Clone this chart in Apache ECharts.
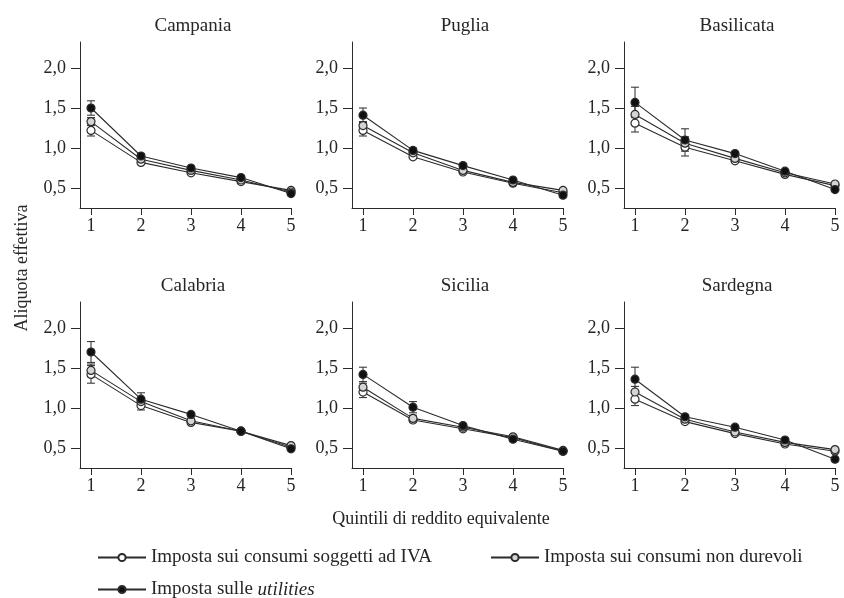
<!DOCTYPE html>
<html>
<head>
<meta charset="utf-8">
<script src="https://cdn.jsdelivr.net/npm/echarts@6/dist/echarts.min.js"></script>
<style>
  html, body { margin: 0; padding: 0; background: #fff; }
  #chart { width: 844px; height: 598px; }
</style>
</head>
<body>
<div id="chart"></div>
<script>
// regioni e quintili
var regions = ['Campania', 'Puglia', 'Basilicata', 'Calabria', 'Sicilia', 'Sardegna'];
var quintili = [1, 2, 3, 4, 5];
var yTicks = [0.5, 1.0, 1.5, 2.0];

// aliquota effettiva per regione (una riga per regione, quintili 1..5)
var ivaValues = [
  [1.22, 0.82, 0.69, 0.58, 0.47],
  [1.22, 0.89, 0.70, 0.56, 0.44],
  [1.31, 1.01, 0.84, 0.67, 0.53],
  [1.42, 1.03, 0.82, 0.71, 0.51],
  [1.20, 0.85, 0.74, 0.63, 0.46],
  [1.11, 0.83, 0.68, 0.55, 0.46]
];
var ndValues = [
  [1.33, 0.86, 0.72, 0.60, 0.45],
  [1.28, 0.94, 0.72, 0.57, 0.47],
  [1.42, 1.06, 0.87, 0.69, 0.55],
  [1.47, 1.08, 0.84, 0.71, 0.53],
  [1.26, 0.87, 0.76, 0.64, 0.47],
  [1.20, 0.86, 0.70, 0.57, 0.48]
];
var utilValues = [
  [1.50, 0.90, 0.75, 0.63, 0.43],
  [1.41, 0.97, 0.78, 0.60, 0.41],
  [1.57, 1.10, 0.93, 0.71, 0.48],
  [1.70, 1.11, 0.92, 0.71, 0.49],
  [1.42, 1.01, 0.78, 0.61, 0.46],
  [1.36, 0.89, 0.76, 0.60, 0.36]
];
// semi-ampiezza degli intervalli (barre di errore)
var ivaErr = [
  [0.07, 0.02, 0.01, 0.01, 0.01],
  [0.07, 0.02, 0.01, 0.01, 0.01],
  [0.11, 0.11, 0.02, 0.01, 0.01],
  [0.11, 0.055, 0.02, 0.01, 0.01],
  [0.07, 0.03, 0.01, 0.01, 0.01],
  [0.08, 0.02, 0.01, 0.01, 0.01]
];
var ndErr = [
  [0.05, 0.02, 0.01, 0.01, 0.01],
  [0.05, 0.02, 0.01, 0.01, 0.01],
  [0.10, 0.08, 0.02, 0.01, 0.01],
  [0.08, 0.05, 0.02, 0.01, 0.01],
  [0.05, 0.04, 0.01, 0.01, 0.01],
  [0.07, 0.02, 0.01, 0.01, 0.01]
];
var utilErr = [
  [0.09, 0.03, 0.01, 0.01, 0.01],
  [0.09, 0.03, 0.01, 0.01, 0.01],
  [0.19, 0.14, 0.02, 0.01, 0.01],
  [0.13, 0.08, 0.02, 0.01, 0.01],
  [0.09, 0.07, 0.02, 0.01, 0.01],
  [0.15, 0.02, 0.01, 0.01, 0.01]
];

var serieNames = [
  'Imposta sui consumi soggetti ad IVA',
  'Imposta sui consumi non durevoli',
  'Imposta sulle utilities'
];

var FONT = 'Liberation Serif';
var TXT = '#262626';
var INK = '#2b2b2b';

var myChart = echarts.init(document.getElementById('chart'), null, { renderer: 'canvas' });

var colLeft = [80, 352, 624];
var rowTop = [42, 302];
var grids = [], xAxes = [], yAxes = [], titles = [], series = [];

function errorSeries(idx, vals, errs) {
  var data = quintili.map(function (q, k) {
    return [q, vals[k] - errs[k], vals[k] + errs[k]];
  });
  return {
    type: 'custom',
    xAxisIndex: idx,
    yAxisIndex: idx,
    silent: true,
    z: 1,
    encode: { x: 0, y: [1, 2] },
    data: data,
    renderItem: function (params, api) {
      var x = api.value(0);
      var lo = api.coord([x, api.value(1)]);
      var hi = api.coord([x, api.value(2)]);
      var w = 4;
      var st = { stroke: INK, lineWidth: 1 };
      return {
        type: 'group',
        children: [
          { type: 'line', shape: { x1: lo[0], y1: lo[1], x2: hi[0], y2: hi[1] }, style: st },
          { type: 'line', shape: { x1: lo[0] - w, y1: lo[1], x2: lo[0] + w, y2: lo[1] }, style: st },
          { type: 'line', shape: { x1: hi[0] - w, y1: hi[1], x2: hi[0] + w, y2: hi[1] }, style: st }
        ]
      };
    }
  };
}

function lineSeries(idx, name, vals, fill) {
  return {
    name: name,
    type: 'line',
    xAxisIndex: idx,
    yAxisIndex: idx,
    z: 3,
    symbol: 'circle',
    symbolSize: 8,
    lineStyle: { color: INK, width: 1.1 },
    itemStyle: { color: fill, borderColor: INK, borderWidth: 1.2 },
    emphasis: { disabled: true },
    data: quintili.map(function (q, k) { return [q, vals[k]]; })
  };
}

regions.forEach(function (reg, i) {
  var left = colLeft[i % 3];
  var top = rowTop[Math.floor(i / 3)];
  grids.push({ left: left, top: top, width: 211, height: 166 });
  xAxes.push({
    type: 'value', gridIndex: i, min: 0.78, max: 5,
    axisLine: { lineStyle: { color: INK, width: 1 } },
    axisTick: { show: true, length: 7, lineStyle: { color: INK }, customValues: quintili },
    axisLabel: { customValues: quintili, margin: 9, fontFamily: FONT, fontSize: 18, color: TXT },
    splitLine: { show: false }
  });
  yAxes.push({
    type: 'value', gridIndex: i, min: 0.25, max: 2.325,
    axisLine: { show: true, lineStyle: { color: INK, width: 1 } },
    axisTick: { show: true, length: 9, lineStyle: { color: INK }, customValues: yTicks },
    axisLabel: {
      customValues: yTicks, margin: 14, fontFamily: FONT, fontSize: 18, color: TXT,
      formatter: function (v) { return v.toFixed(1).replace('.', ','); }
    },
    splitLine: { show: false }
  });
  titles.push({
    text: reg,
    left: left + 108,
    top: top - 30,
    textAlign: 'center',
    textStyle: { fontFamily: FONT, fontSize: 19, fontWeight: 'normal', color: TXT }
  });
  series.push(errorSeries(i, ivaValues[i], ivaErr[i]));
  series.push(errorSeries(i, ndValues[i], ndErr[i]));
  series.push(errorSeries(i, utilValues[i], utilErr[i]));
  series.push(lineSeries(i, serieNames[0], ivaValues[i], '#ffffff'));
  series.push(lineSeries(i, serieNames[1], ndValues[i], '#d4d4d4'));
  series.push(lineSeries(i, serieNames[2], utilValues[i], '#111111'));
});

function legendAt(name, left, top) {
  return {
    data: [name],
    left: left,
    top: top,
    padding: 0,
    itemWidth: 48,
    itemHeight: 9,
    itemGap: 0,
    selectedMode: false,
    textStyle: {
      fontFamily: FONT, fontSize: 19, color: TXT,
      rich: {
        n: { fontFamily: FONT, fontSize: 19, color: TXT },
        i: { fontFamily: FONT, fontSize: 19, color: TXT, fontStyle: 'italic' }
      }
    },
    formatter: function (n) {
      if (n === serieNames[2]) return '{n|Imposta sulle }{i|utilities}';
      return n;
    }
  };
}

var options = {
  animation: false,
  title: titles,
  grid: grids,
  xAxis: xAxes,
  yAxis: yAxes,
  legend: [
    legendAt(serieNames[0], 97, 548),
    legendAt(serieNames[1], 490, 548),
    legendAt(serieNames[2], 97, 580)
  ],
  graphic: [
    {
      type: 'text', x: 22, y: 268, rotation: Math.PI / 2,
      style: { text: 'Aliquota effettiva', font: '18px "Liberation Serif"', fill: TXT, textAlign: 'center', textVerticalAlign: 'middle' }
    },
    {
      type: 'text', x: 441, y: 519,
      style: { text: 'Quintili di reddito equivalente', font: '18px "Liberation Serif"', fill: TXT, textAlign: 'center', textVerticalAlign: 'middle' }
    }
  ],
  series: series
};

myChart.setOption(options);
</script>
</body>
</html>
